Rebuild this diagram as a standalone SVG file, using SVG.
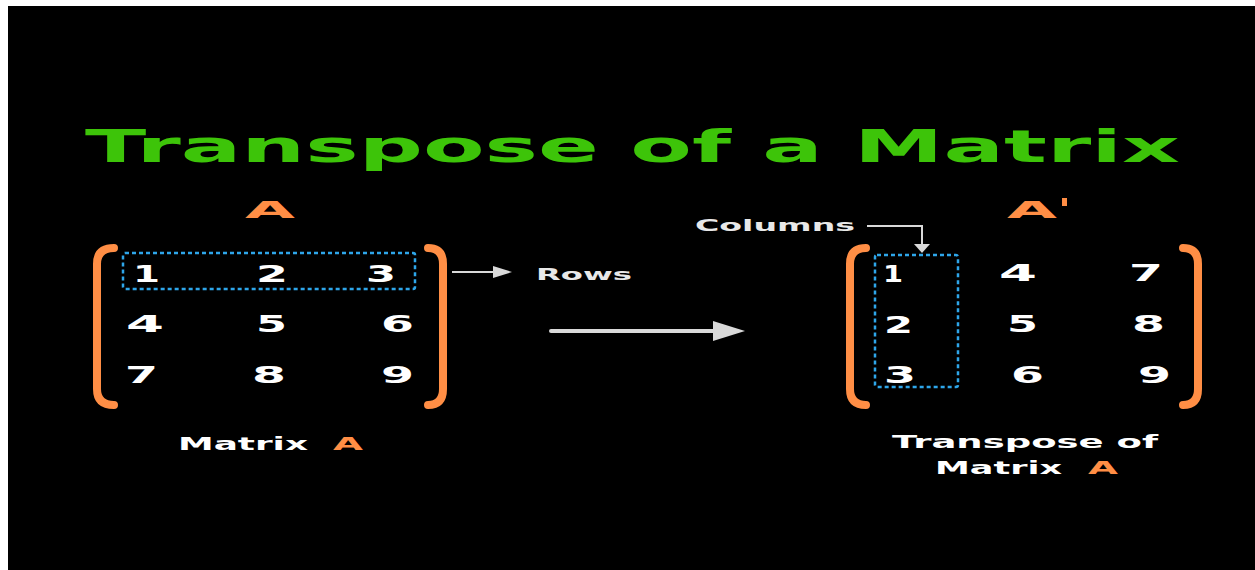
<svg xmlns="http://www.w3.org/2000/svg" width="1255" height="570" viewBox="0 0 1255 570">
<defs>
<style>
.bg{fill:#000}
.title{font-family:"DejaVu Sans",sans-serif;font-weight:bold;font-size:45px;fill:#3DC409}
.d{font-family:"DejaVu Sans",sans-serif;font-weight:bold;font-size:23px;fill:#fff}
.lbl{font-family:"DejaVu Sans",sans-serif;font-weight:bold;font-size:18px;fill:#fff}
.sm{font-family:"DejaVu Sans",sans-serif;font-weight:bold;font-size:15px;fill:#e8e8e8}
.or{fill:#FF8E45}
.brk{fill:none;stroke:#FF8E45;stroke-width:8;stroke-linecap:round}
.dash{fill:none;stroke:#2EA6EA;stroke-width:2.5;stroke-dasharray:4 3}
.conn{fill:none;stroke:#d9d9d9}
</style>
</defs>
<rect class="bg" x="8" y="6" width="1247" height="564"/>
<text class="title" x="85" y="162" textLength="1095" lengthAdjust="spacingAndGlyphs">Transpose of a Matrix</text>

<g id="matrixA">
<text class="d or" x="245" y="218" font-size="29" textLength="50" lengthAdjust="spacingAndGlyphs">A</text>
<path class="brk" d="M114,248 Q97,248 97,264 L97,389 Q97,405 114,405"/>
<path class="brk" d="M428,248 Q443,248 443,264 L443,389 Q443,405 428,405"/>
<rect class="dash" x="123" y="253" width="292" height="36" rx="2"/>
<text class="d" x="133" y="282" textLength="27" lengthAdjust="spacingAndGlyphs">1</text>
<text class="d" x="256" y="282" textLength="32" lengthAdjust="spacingAndGlyphs">2</text>
<text class="d" x="366" y="282" textLength="30" lengthAdjust="spacingAndGlyphs">3</text>
<text class="d" x="126" y="332" textLength="38" lengthAdjust="spacingAndGlyphs">4</text>
<text class="d" x="256" y="332" textLength="31" lengthAdjust="spacingAndGlyphs">5</text>
<text class="d" x="381" y="332" textLength="33" lengthAdjust="spacingAndGlyphs">6</text>
<text class="d" x="125" y="383" textLength="33" lengthAdjust="spacingAndGlyphs">7</text>
<text class="d" x="252" y="383" textLength="34" lengthAdjust="spacingAndGlyphs">8</text>
<text class="d" x="381" y="383" textLength="33" lengthAdjust="spacingAndGlyphs">9</text>
<text class="lbl" x="178" y="450" textLength="130" lengthAdjust="spacingAndGlyphs">Matrix</text>
<text class="lbl or" x="333" y="450" textLength="30" lengthAdjust="spacingAndGlyphs">A</text>
</g>

<g id="rowsLabel">
<text class="sm" x="536" y="280" textLength="96" lengthAdjust="spacingAndGlyphs">Rows</text>
</g>

<g id="columnsLabel">
<text class="sm" x="695" y="231" textLength="160" lengthAdjust="spacingAndGlyphs">Columns</text>
</g>

<g id="matrixAT">
<text class="d or" x="1007" y="218" font-size="29" textLength="50" lengthAdjust="spacingAndGlyphs">A</text>
<rect class="or" x="1062" y="198" width="5" height="8"/>
<path class="brk" d="M866,248 Q850,248 850,264 L850,389 Q850,405 866,405"/>
<path class="brk" d="M1183,248 Q1198,248 1198,264 L1198,389 Q1198,405 1183,405"/>
<rect class="dash" x="875" y="255" width="83" height="132" rx="2"/>
<text class="d" x="883" y="282" textLength="20" lengthAdjust="spacingAndGlyphs">1</text>
<text class="d" x="884" y="333" textLength="29" lengthAdjust="spacingAndGlyphs">2</text>
<text class="d" x="884" y="383" textLength="32" lengthAdjust="spacingAndGlyphs">3</text>
<text class="d" x="999" y="281" textLength="38" lengthAdjust="spacingAndGlyphs">4</text>
<text class="d" x="1007" y="332" textLength="31" lengthAdjust="spacingAndGlyphs">5</text>
<text class="d" x="1011" y="383" textLength="33" lengthAdjust="spacingAndGlyphs">6</text>
<text class="d" x="1129" y="281" textLength="34" lengthAdjust="spacingAndGlyphs">7</text>
<text class="d" x="1132" y="332" textLength="33" lengthAdjust="spacingAndGlyphs">8</text>
<text class="d" x="1138" y="383" textLength="33" lengthAdjust="spacingAndGlyphs">9</text>
<text class="lbl" x="892" y="448" textLength="266" lengthAdjust="spacingAndGlyphs">Transpose of</text>
<text class="lbl" x="935" y="474" textLength="127" lengthAdjust="spacingAndGlyphs">Matrix</text>
<text class="lbl or" x="1088" y="474" textLength="30" lengthAdjust="spacingAndGlyphs">A</text>
</g>

<g id="connectors">
<line class="conn" x1="452" y1="272" x2="494" y2="272" stroke-width="2"/>
<path d="M493,266 L512,272 L493,278 Z" fill="#d9d9d9"/>
<line class="conn" x1="551" y1="331" x2="715" y2="331" stroke-width="4" stroke-linecap="round"/>
<path d="M713,321 L745,331 L713,341 Z" fill="#d9d9d9"/>
<path class="conn" d="M867,226 L922,226 L922,245" stroke-width="2"/>
<path d="M914,244 L930,244 L922,253 Z" fill="#d9d9d9"/>
</g>
</svg>
